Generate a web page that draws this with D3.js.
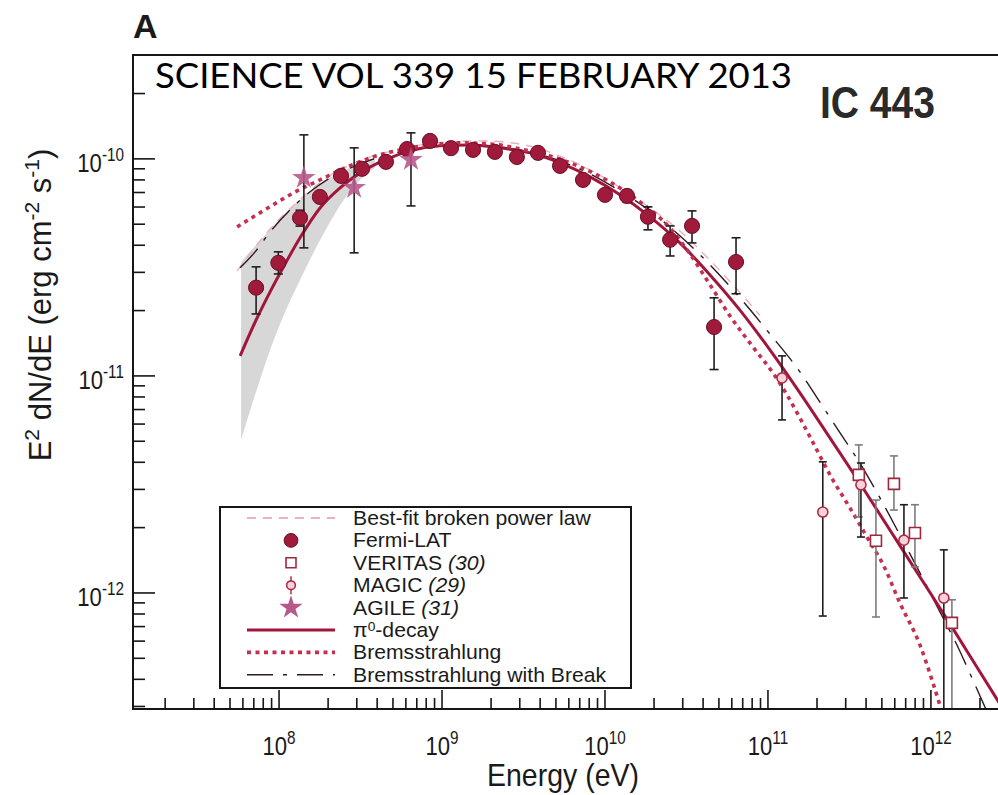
<!DOCTYPE html>
<html>
<head>
<meta charset="utf-8">
<script src="https://cdn.jsdelivr.net/npm/d3@7"></script>
<style>
  html, body { margin: 0; padding: 0; background: #fff; }
  svg { display: block; }
</style>
</head>
<body>
<svg id="chart" width="998" height="795"></svg>
<script>
// IC 443 spectral energy distribution, E^2 dN/dE (erg cm^-2 s^-1) vs energy (eV)

// Fermi-LAT points
const fermiE  = [7.23e7, 9.9e7, 1.345e8, 1.78e8, 2.40e8, 3.23e8, 4.53e8, 6.10e8, 8.44e8, 1.135e9, 1.55e9, 2.11e9, 2.88e9, 3.88e9, 5.30e9, 7.33e9, 1.0e10, 1.365e10, 1.835e10, 2.51e10, 3.42e10, 4.67e10, 6.37e10];
const fermiF  = [2.55e-11, 3.32e-11, 5.35e-11, 6.68e-11, 8.35e-11, 9.00e-11, 9.69e-11, 1.11e-10, 1.21e-10, 1.12e-10, 1.10e-10, 1.077e-10, 1.02e-10, 1.066e-10, 9.28e-11, 8.00e-11, 6.83e-11, 6.75e-11, 5.41e-11, 4.24e-11, 4.91e-11, 1.68e-11, 3.35e-11];
const fermiLo = [1.93e-11, 2.95e-11, 4.9e-11, 6.3e-11, 7.95e-11, 8.6e-11, 9.3e-11, 1.07e-10, 1.17e-10, 1.08e-10, 1.06e-10, 1.04e-10, 9.8e-11, 1.02e-10, 8.85e-11, 7.6e-11, 6.45e-11, 6.3e-11, 4.71e-11, 3.57e-11, 4.10e-11, 1.07e-11, 2.39e-11];
const fermiHi = [3.18e-11, 3.73e-11, 5.8e-11, 7.05e-11, 8.75e-11, 9.4e-11, 1.01e-10, 1.15e-10, 1.25e-10, 1.16e-10, 1.14e-10, 1.115e-10, 1.06e-10, 1.11e-10, 9.7e-11, 8.4e-11, 7.2e-11, 7.2e-11, 6.01e-11, 4.91e-11, 5.76e-11, 2.29e-11, 4.33e-11];

// AGILE points
const agileE  = [1.42e8, 2.89e8, 6.45e8];
const agileF  = [8.18e-11, 7.35e-11, 9.89e-11];
const agileLo = [3.89e-11, 3.69e-11, 6.07e-11];
const agileHi = [1.29e-10, 1.124e-10, 1.318e-10];

// MAGIC points
const magicE  = [1.22e11, 2.17e11, 3.72e11, 6.83e11, 1.20e12];
const magicF  = [9.79e-12, 2.36e-12, 3.15e-12, 1.75e-12, 9.48e-13];
const magicLo = [6.27e-12, 7.83e-13, 1.81e-12, 9.48e-13, 1.5e-13];
const magicHi = [1.237e-11, 4.02e-12, 3.97e-12, 2.55e-12, 1.58e-12];

// VERITAS points
const veritasE  = [3.61e11, 4.60e11, 5.93e11, 7.98e11, 1.345e12];
const veritasF  = [3.50e-12, 1.74e-12, 3.18e-12, 1.89e-12, 7.28e-13];
const veritasLo = [2.24e-12, 7.75e-13, 2.41e-12, 1.32e-12, 1.5e-13];
const veritasHi = [4.81e-12, 2.68e-12, 4.28e-12, 2.55e-12, 9.3e-13];

// model curves
const pionE = [5.77e7, 7.23e7, 8.81e7, 1.089e8, 1.345e8, 1.784e8, 2.367e8, 3.14e8, 4.47e8, 6.36e8, 9.72e8, 1.485e9, 2.27e9, 3.47e9, 5.30e9, 8.09e9, 1.236e10, 1.888e10, 2.88e10, 4.41e10, 6.73e10, 1.028e11, 1.571e11, 2.40e11, 3.66e11, 5.60e11, 8.57e11, 1.309e12, 2.00e12, 2.65e12, 3.52e12];
const pionF = [1.236e-11, 1.81e-11, 2.44e-11, 3.28e-11, 4.33e-11, 5.94e-11, 7.35e-11, 8.62e-11, 9.89e-11, 1.089e-10, 1.148e-10, 1.16e-10, 1.124e-10, 1.066e-10, 9.58e-11, 8.26e-11, 6.83e-11, 5.40e-11, 4.10e-11, 2.92e-11, 2.01e-11, 1.318e-11, 8.35e-12, 5.18e-12, 3.21e-12, 1.95e-12, 1.185e-12, 7.20e-13, 4.32e-13, 3.08e-13, 2.19e-13];

const bremE = [5.53e7, 7.98e7, 1.058e8, 1.29e8, 1.784e8, 2.54e8, 3.62e8, 5.52e8, 8.44e8, 1.29e9, 1.97e9, 3.01e9, 4.60e9, 7.02e9, 1.073e10, 1.64e10, 2.50e10, 3.32e10, 4.41e10, 5.85e10, 8.09e10, 1.073e11, 1.308e11, 1.81e11, 2.50e11, 3.19e11, 4.05e11, 5.22e11, 6.45e11, 8.56e11, 1.029e12, 1.168e12, 1.31e12];
const bremF = [4.86e-11, 5.76e-11, 6.54e-11, 7.12e-11, 8.00e-11, 9.09e-11, 1.011e-10, 1.10e-10, 1.16e-10, 1.185e-10, 1.172e-10, 1.112e-10, 1.032e-10, 9.19e-11, 7.83e-11, 6.34e-11, 4.81e-11, 3.65e-11, 2.63e-11, 1.89e-11, 1.36e-11, 1.032e-11, 8.18e-12, 5.24e-12, 3.32e-12, 2.46e-12, 1.81e-12, 1.30e-12, 8.99e-13, 5.76e-13, 3.85e-13, 2.83e-13, 2.1e-13];

const breakE = [5.77e7, 7.13e7, 8.81e7, 1.168e8, 1.55e8, 2.06e8, 2.93e8, 4.17e8, 6.36e8, 9.72e8, 1.485e9, 2.27e9, 3.47e9, 5.30e9, 8.09e9, 1.236e10, 1.888e10, 2.88e10, 4.41e10, 6.73e10, 1.028e11, 1.571e11, 2.08e11, 2.77e11, 3.66e11, 4.87e11, 6.45e11, 8.56e11, 1.136e12, 1.444e12, 1.81e12, 2.30e12];
const breakF = [3.15e-11, 3.73e-11, 4.61e-11, 5.82e-11, 7.05e-11, 8.18e-11, 9.28e-11, 1.021e-10, 1.10e-10, 1.148e-10, 1.16e-10, 1.136e-10, 1.077e-10, 9.79e-11, 8.53e-11, 7.12e-11, 5.76e-11, 4.42e-11, 3.25e-11, 2.29e-11, 1.561e-11, 1.043e-11, 7.59e-12, 5.46e-12, 3.97e-12, 2.74e-12, 1.85e-12, 1.237e-12, 8.18e-13, 5.76e-13, 3.97e-13, 2.65e-13];

const bplE = [5.53e7, 8.81e7, 1.345e8, 2.06e8, 3.14e8, 5.52e8, 9.72e8, 1.71e9, 3.01e9, 5.30e9, 9.31e9, 1.64e10, 2.88e10, 5.08e10, 8.93e10];
const bplF = [3.05e-11, 4.75e-11, 6.5e-11, 8.4e-11, 9.8e-11, 1.11e-10, 1.19e-10, 1.21e-10, 1.17e-10, 1.03e-10, 8.4e-11, 6.4e-11, 4.65e-11, 3.05e-11, 1.9e-11];

// shaded band at low energy
const bandE  = [5.85e7, 7.13e7, 8.81e7, 1.089e8, 1.345e8, 1.662e8, 2.06e8, 2.54e8, 3.14e8, 3.88e8];
const bandHi = [3.35e-11, 3.97e-11, 4.71e-11, 5.58e-11, 6.47e-11, 7.35e-11, 8.18e-11, 8.90e-11, 9.48e-11, 9.89e-11];
const bandLo = [5.07e-12, 8.18e-12, 1.318e-11, 1.97e-11, 2.77e-11, 3.81e-11, 5.13e-11, 6.61e-11, 8.00e-11, 9.09e-11];

const legendLabels = ['Best-fit broken power law', 'Fermi-LAT', 'VERITAS', 'MAGIC', 'AGILE', '-decay', 'Bremsstrahlung', 'Bremsstrahlung with Break'];
const legendRefs = ['', '', '(30)', '(29)', '(31)', '', '', ''];

const FONT = "'Liberation Sans', Arial, Helvetica, sans-serif";
const RED = '#9f1a3b';

const svg = d3.select('#chart');
const plot = { left: 133, top: 55, right: 1011, bottom: 709 };

const x = d3.scaleLog().domain([1.27e7, 3.1e12]).range([plot.left, plot.right]);
const y = d3.scaleLog().domain([2.92e-13, 3.01e-10]).range([plot.bottom, plot.top]);

svg.append('defs').append('clipPath').attr('id', 'clip')
  .append('rect')
  .attr('x', plot.left).attr('y', plot.top)
  .attr('width', 998 - plot.left).attr('height', plot.bottom - plot.top);

const zip = (a, b) => a.map((v, i) => [v, b[i]]);
const line = d3.line().x(d => x(d[0])).y(d => y(d[1])).curve(d3.curveMonotoneX);

const chart = svg.append('g').attr('clip-path', 'url(#clip)');

// shaded band
chart.append('path')
  .datum(bandE.map((e, i) => ({ e, lo: bandLo[i], hi: bandHi[i] })))
  .attr('fill', '#c9c9c9')
  .attr('opacity', 0.75)
  .attr('d', d3.area().x(d => x(d.e)).y0(d => y(d.lo)).y1(d => y(d.hi)).curve(d3.curveMonotoneX));

// model curves
chart.append('path').datum(zip(bplE, bplF))
  .attr('fill', 'none').attr('stroke', '#eab0ba').attr('stroke-width', 1.4)
  .attr('stroke-dasharray', '9,7').attr('d', line);

chart.append('path').datum(zip(breakE, breakF))
  .attr('fill', 'none').attr('stroke', '#2e1a1f').attr('stroke-width', 1.4)
  .attr('stroke-dasharray', '26,10,4,10').attr('d', line);

chart.append('path').datum(zip(pionE, pionF))
  .attr('fill', 'none').attr('stroke', '#a3163b').attr('stroke-width', 3).attr('d', line);

chart.append('path').datum(zip(bremE, bremF))
  .attr('fill', 'none').attr('stroke', '#c4304f').attr('stroke-width', 3.6)
  .attr('stroke-dasharray', '4,4.5').attr('d', line);

// error bars
function errorBars(E, lo, hi, color, cap) {
  const g = chart.append('g').attr('stroke', color).attr('stroke-width', 1.6);
  E.forEach((e, i) => {
    const px = x(e);
    g.append('line').attr('x1', px).attr('x2', px).attr('y1', y(lo[i])).attr('y2', y(hi[i]));
    [lo[i], hi[i]].forEach(v => {
      g.append('line').attr('x1', px - cap).attr('x2', px + cap).attr('y1', y(v)).attr('y2', y(v));
    });
  });
}
errorBars(fermiE, fermiLo, fermiHi, '#1e1e1e', 4.5);
errorBars(agileE, agileLo, agileHi, '#1e1e1e', 4.5);
errorBars(veritasE, veritasLo, veritasHi, '#7d7d7d', 4);
errorBars(magicE, magicLo, magicHi, '#1e1e1e', 4);

// markers
const sym = (type, size) => d3.symbol().type(type).size(size);

chart.append('g').selectAll('path')
  .data(zip(fermiE, fermiF)).join('path')
  .attr('transform', d => `translate(${x(d[0])},${y(d[1])})`)
  .attr('d', sym(d3.symbolCircle, 180))
  .attr('fill', RED).attr('stroke', '#6e0f26').attr('stroke-width', 1);

chart.append('g').selectAll('path')
  .data(zip(agileE, agileF)).join('path')
  .attr('transform', d => `translate(${x(d[0])},${y(d[1])})`)
  .attr('d', sym(d3.symbolStar, 170))
  .attr('fill', '#b65889').attr('opacity', 0.9);

chart.append('g').selectAll('path')
  .data(zip(veritasE, veritasF)).join('path')
  .attr('transform', d => `translate(${x(d[0])},${y(d[1])})`)
  .attr('d', sym(d3.symbolSquare, 121))
  .attr('fill', '#fff').attr('stroke', '#a0283c').attr('stroke-width', 1.6);

chart.append('g').selectAll('path')
  .data(zip(magicE, magicF)).join('path')
  .attr('transform', d => `translate(${x(d[0])},${y(d[1])})`)
  .attr('d', sym(d3.symbolCircle, 80))
  .attr('fill', '#f6d3db').attr('stroke', '#b02a48').attr('stroke-width', 1.6);

// frame
svg.append('path')
  .attr('d', `M998,${plot.top}H${plot.left}V${plot.bottom}H998`)
  .attr('fill', 'none').attr('stroke', '#161616').attr('stroke-width', 2);

// ticks (inward)
const isMajor = t => Math.abs(Math.log10(t) - Math.round(Math.log10(t))) < 1e-6;
const axisG = svg.append('g').attr('stroke', '#161616').attr('stroke-width', 1.6);
x.ticks().filter(t => x(t) > plot.left + 2 && x(t) < 998).forEach(t => {
  const len = isMajor(t) ? 19 : 11;
  axisG.append('line').attr('x1', x(t)).attr('x2', x(t))
    .attr('y1', plot.bottom).attr('y2', plot.bottom - len);
});
y.ticks().filter(t => y(t) > plot.top + 2 && y(t) < plot.bottom - 2).forEach(t => {
  const len = isMajor(t) ? 22 : 12;
  axisG.append('line').attr('x1', plot.left).attr('x2', plot.left + len)
    .attr('y1', y(t)).attr('y2', y(t));
});

// tick labels: 10^n
function powerLabel(px, py, exp, anchor) {
  const t = svg.append('g')
    .attr('transform', `translate(${px},${py}) scale(0.85,1)`)
    .append('text')
    .attr('font-family', FONT).attr('fill', '#1a1a1a')
    .attr('text-anchor', anchor);
  t.append('tspan').attr('font-size', 26).text('10');
  t.append('tspan').attr('font-size', 18).attr('dy', -11).text(exp);
}
const xTickExps = [8, 9, 10, 11, 12];
const yTickExps = [-10, -11, -12];
xTickExps.forEach(n => powerLabel(x(Math.pow(10, n)), 755, n, 'middle'));
yTickExps.forEach(n => powerLabel(124, y(Math.pow(10, n)) + 13, n, 'end'));

// axis titles
svg.append('g').attr('transform', 'translate(563,786) scale(0.89,1)')
  .append('text').attr('font-family', FONT).attr('font-size', 32)
  .attr('text-anchor', 'middle').attr('fill', '#1a1a1a').text('Energy (eV)');

const yl = svg.append('g').attr('transform', 'translate(51,305) rotate(-90)')
  .append('text').attr('font-family', FONT).attr('font-size', 31)
  .attr('text-anchor', 'middle').attr('fill', '#1a1a1a');
yl.append('tspan').text('E');
yl.append('tspan').attr('font-size', 21).attr('dy', -12).text('2');
yl.append('tspan').attr('dy', 12).text(' dN/dE (erg cm');
yl.append('tspan').attr('font-size', 21).attr('dy', -12).text('-2');
yl.append('tspan').attr('dy', 12).text(' s');
yl.append('tspan').attr('font-size', 21).attr('dy', -12).text('-1');
yl.append('tspan').attr('dy', 12).text(')');

// panel letter, source name, citation line
svg.append('text').attr('x', 133).attr('y', 38)
  .attr('font-family', FONT).attr('font-weight', 'bold').attr('font-size', 34)
  .attr('fill', '#1a1a1a').text('A');

svg.append('text').attr('x', 820).attr('y', 118)
  .attr('font-family', FONT).attr('font-weight', 'bold').attr('font-size', 45)
  .attr('textLength', 115).attr('lengthAdjust', 'spacingAndGlyphs')
  .attr('fill', '#2a2a2a').text('IC 443');

svg.append('text').attr('x', 155).attr('y', 88)
  .attr('font-family', "Lato, 'Open Sans', sans-serif").attr('font-size', 35)
  .attr('textLength', 637).attr('lengthAdjust', 'spacingAndGlyphs')
  .attr('fill', '#000').text('SCIENCE VOL 339 15 FEBRUARY 2013');

// legend
const leg = svg.append('g');
leg.append('rect').attr('x', 220).attr('y', 507).attr('width', 411).attr('height', 181)
  .attr('fill', '#fff').attr('stroke', '#161616').attr('stroke-width', 2);

const rowY = i => 518 + i * 22.4;
const lx0 = 247, lx1 = 335, mx = 291;

leg.append('line').attr('x1', lx0).attr('x2', lx1).attr('y1', rowY(0)).attr('y2', rowY(0))
  .attr('stroke', '#e59aa8').attr('stroke-width', 1.5).attr('stroke-dasharray', '9,7');
leg.append('path').attr('transform', `translate(${mx},${rowY(1)})`)
  .attr('d', sym(d3.symbolCircle, 150)).attr('fill', RED).attr('stroke', '#6e0f26');
leg.append('path').attr('transform', `translate(${mx},${rowY(2)})`)
  .attr('d', sym(d3.symbolSquare, 100)).attr('fill', '#fff').attr('stroke', '#a0283c').attr('stroke-width', 1.6);
leg.append('line').attr('x1', mx).attr('x2', mx).attr('y1', rowY(3) - 9).attr('y2', rowY(3) + 9)
  .attr('stroke', '#a0283c').attr('stroke-width', 1.4);
leg.append('path').attr('transform', `translate(${mx},${rowY(3)})`)
  .attr('d', sym(d3.symbolCircle, 60)).attr('fill', '#f6d3db').attr('stroke', '#b02a48').attr('stroke-width', 1.6);
leg.append('path').attr('transform', `translate(${mx},${rowY(4)})`)
  .attr('d', sym(d3.symbolStar, 170)).attr('fill', '#b65889');
leg.append('line').attr('x1', lx0).attr('x2', lx1).attr('y1', rowY(5)).attr('y2', rowY(5))
  .attr('stroke', '#a3163b').attr('stroke-width', 3);
leg.append('line').attr('x1', lx0).attr('x2', lx1).attr('y1', rowY(6)).attr('y2', rowY(6))
  .attr('stroke', '#c4304f').attr('stroke-width', 3.6).attr('stroke-dasharray', '4,4.5');
leg.append('line').attr('x1', lx0).attr('x2', lx1).attr('y1', rowY(7)).attr('y2', rowY(7))
  .attr('stroke', '#2e1a1f').attr('stroke-width', 1.4).attr('stroke-dasharray', '26,10,4,10');

legendLabels.forEach((lab, i) => {
  const t = leg.append('g').attr('transform', `translate(353,${rowY(i) + 7}) scale(1.06,1)`)
    .append('text').attr('font-family', FONT).attr('font-size', 20).attr('fill', '#1a1a1a');
  if (i === 5) {
    t.append('tspan').text('π');
    t.append('tspan').attr('font-size', 13).attr('dy', -6).text('0');
    t.append('tspan').attr('dy', 6).text(lab);
  } else {
    t.append('tspan').text(lab);
  }
  if (legendRefs[i]) t.append('tspan').attr('font-style', 'italic').text(' ' + legendRefs[i]);
});
</script>
</body>
</html>
